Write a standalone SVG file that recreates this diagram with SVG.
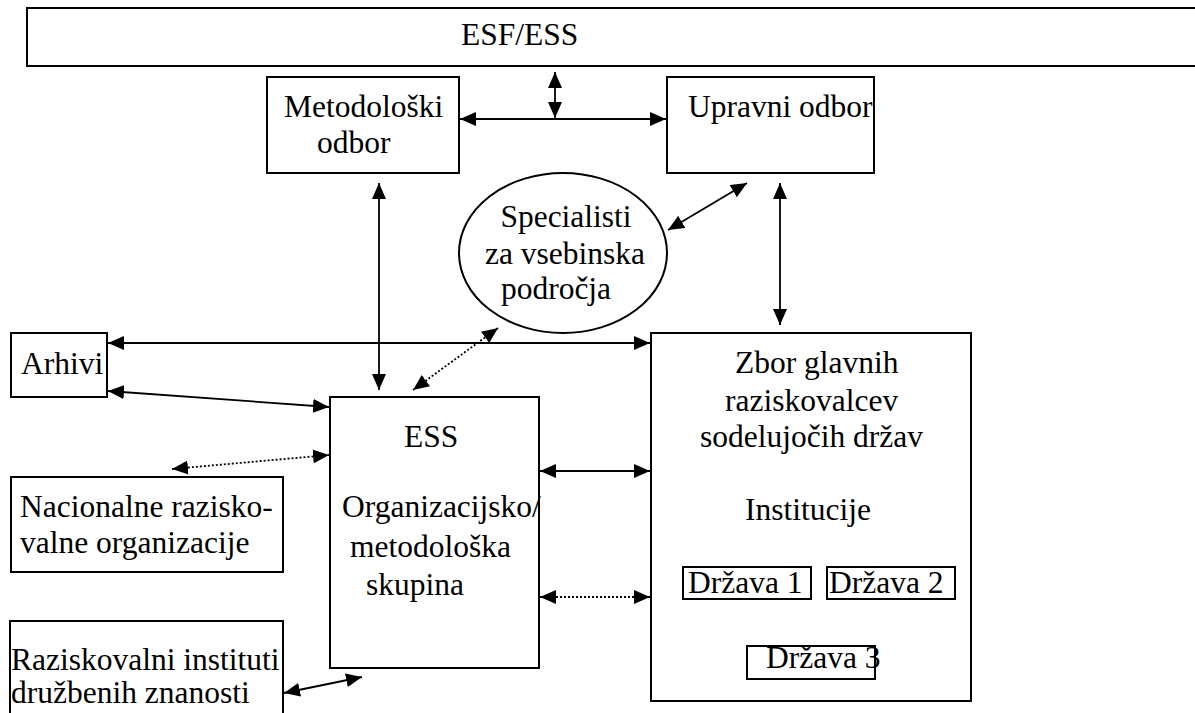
<svg xmlns="http://www.w3.org/2000/svg" width="1195" height="713" viewBox="0 0 1195 713">
<style>
.box{fill:#fff;stroke:#000;stroke-width:2}
.t{font-family:"Liberation Serif","Times New Roman",serif;font-size:31.5px;fill:#000}
.c{fill:none;stroke:#000;stroke-width:1.8}
.d{fill:none;stroke:#000;stroke-width:1.8;stroke-dasharray:2 2}
</style>
<defs>
<marker id="ah" markerUnits="userSpaceOnUse" markerWidth="16" markerHeight="14" refX="16" refY="7" orient="auto-start-reverse">
<path d="M0,0 L16,7 L0,14 z" fill="#000"/>
</marker>
</defs>
<rect width="1195" height="713" fill="#fff"/>
<g id="esf"><rect class="box" x="27" y="8" width="1190" height="58"/><text class="t" x="461" y="45">ESF/ESS</text></g>
<g id="metodoloski"><rect class="box" x="267" y="77" width="192" height="96"/><text class="t" x="284" y="117">Metodološki</text><text class="t" x="317" y="153">odbor</text></g>
<g id="upravni"><rect class="box" x="667" y="77" width="207" height="96"/><text class="t" x="688" y="117">Upravni odbor</text></g>
<g id="specialisti"><ellipse class="box" cx="563" cy="253" rx="104" ry="80"/><text class="t" text-anchor="middle" x="566" y="227">Specialisti</text><text class="t" text-anchor="middle" x="565" y="264">za vsebinska</text><text class="t" text-anchor="middle" x="556" y="299">področja</text></g>
<g id="arhivi"><rect class="box" x="11" y="333" width="96" height="64"/><text class="t" x="21" y="374">Arhivi</text></g>
<g id="nacionalne"><rect class="box" x="11" y="477" width="272" height="95"/><text class="t" x="20" y="517">Nacionalne razisko-</text><text class="t" x="20" y="553">valne organizacije</text></g>
<g id="raziskovalni"><rect class="box" x="10" y="621" width="273" height="120"/><text class="t" x="11" y="670">Raziskovalni instituti</text><text class="t" x="11" y="703">družbenih znanosti</text></g>
<g id="ess"><rect class="box" x="330" y="397" width="209" height="271"/><text class="t" x="404" y="447">ESS</text><text class="t" x="342" y="517">Organizacijsko/</text><text class="t" x="350" y="557">metodološka</text><text class="t" x="366" y="595">skupina</text></g>
<g id="zbor"><rect class="box" x="651" y="333" width="320" height="368"/><text class="t" x="735" y="373">Zbor glavnih</text><text class="t" x="725" y="411">raziskovalcev</text><text class="t" x="700" y="447">sodelujočih držav</text><text class="t" x="745" y="520">Institucije</text></g>
<g id="drzava1"><rect class="box" x="683" y="567" width="128" height="32"/><text class="t" x="688" y="593">Država 1</text></g>
<g id="drzava2"><rect class="box" x="827" y="567" width="128" height="32"/><text class="t" x="829" y="593">Država 2</text></g>
<g id="drzava3"><rect class="box" x="747" y="646" width="128" height="33"/><text class="t" x="766" y="668">Država 3</text></g>
<g id="connectors">
<line class="c" x1="555" y1="72" x2="555" y2="118" marker-start="url(#ah)" marker-end="url(#ah)"/>
<line class="c" x1="460" y1="119" x2="666" y2="119" marker-start="url(#ah)" marker-end="url(#ah)"/>
<line class="c" x1="379" y1="183" x2="379" y2="390" marker-start="url(#ah)" marker-end="url(#ah)"/>
<line class="c" x1="668" y1="230" x2="747" y2="183" marker-start="url(#ah)" marker-end="url(#ah)"/>
<line class="c" x1="780" y1="183" x2="780" y2="325" marker-start="url(#ah)" marker-end="url(#ah)"/>
<line class="c" x1="108" y1="343" x2="650" y2="343" marker-start="url(#ah)" marker-end="url(#ah)"/>
<line class="d" x1="498" y1="328" x2="413" y2="390" marker-start="url(#ah)" marker-end="url(#ah)"/>
<line class="c" x1="108" y1="391" x2="329" y2="407" marker-start="url(#ah)" marker-end="url(#ah)"/>
<line class="d" x1="172" y1="469" x2="329" y2="455" marker-start="url(#ah)" marker-end="url(#ah)"/>
<line class="c" x1="540" y1="471" x2="650" y2="471" marker-start="url(#ah)" marker-end="url(#ah)"/>
<line class="d" x1="540" y1="597" x2="650" y2="597" marker-start="url(#ah)" marker-end="url(#ah)"/>
<line class="c" x1="284" y1="693" x2="362" y2="677" marker-start="url(#ah)" marker-end="url(#ah)"/>
</g>
</svg>
